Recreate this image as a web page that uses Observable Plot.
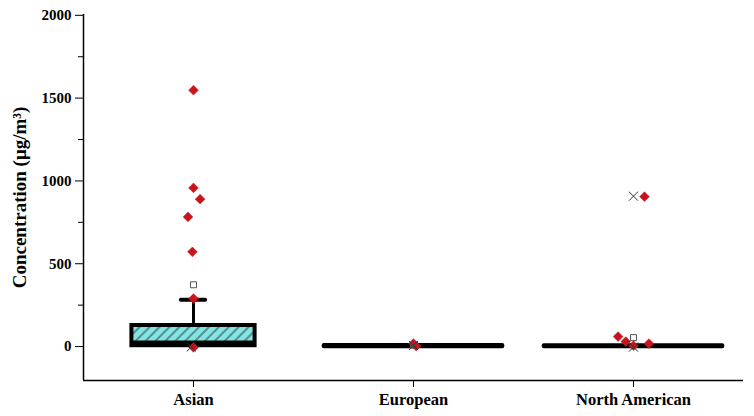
<!DOCTYPE html>
<html>
<head>
<meta charset="utf-8">
<script src="https://cdn.jsdelivr.net/npm/d3@7"></script>
<script src="https://cdn.jsdelivr.net/npm/@observablehq/plot@0.6"></script>
<style>
  html, body { margin: 0; padding: 0; background: white; }
</style>
</head>
<body>
<div id="chart"></div>
<script>
// ---- data ----
const categories = ["Asian", "European", "North American"];
const q1 = [5, 0, 0];
const median = [25, 2, 1];
const q3 = [127, 5, 3];
const whiskerHigh = [283, 5, 3];
const means = [373, 8, 54];

// outliers: category index, value, horizontal jitter (category units)
const outlierCat =    [0,    0,   0,   0,     0,      0,   0,  1,  1,     2,     2,     2,    2,  2];
const outlierValue =  [1548, 958, 890, 783,   572,    290, -5, 18, 3,     905,   60,    30,   5,  18];
const outlierJitter = [0,    0,   0.03,-0.025,-0.005, 0,   0,  0,  0.012, 0.05, -0.07, -0.035, 0, 0.07];

// extreme markers (x)
const crossCat =    [0,  1, 2,     2];
const crossValue =  [-2, 6, 908,   -3];
const crossJitter = [-0.01, 0, 0.0, 0];

const yLabel = "Concentration (\u03bcg/m\u00b3)";

// ---- tables built from arrays ----
const boxes = categories.map((c, i) => ({i, c, q1: q1[i], med: median[i], q3: q3[i], hi: whiskerHigh[i], mean: means[i]}));
const outliers = outlierCat.map((c, k) => ({x: c + outlierJitter[k], y: outlierValue[k]}));
const crosses = crossCat.map((c, k) => ({x: c + crossJitter[k], y: crossValue[k]}));

const mainHalf = 0.28, otherHalf = 0.405, capHalf = 0.055;
const yMin = -205, yMax = 2005;

const svg = Plot.plot({
  width: 754,
  height: 416,
  marginLeft: 83,
  marginRight: 11,
  marginTop: 14,
  marginBottom: 36,
  style: {fontFamily: "'Liberation Serif', 'Times New Roman', serif", fontWeight: "bold", fontSize: "15px", background: "white", color: "black"},
  x: {domain: [-0.5, 2.5], axis: null},
  y: {domain: [yMin, yMax], axis: null},
  marks: [
    // boxes
    Plot.rect(boxes.filter(d => d.i === 0), {x1: d => d.i - mainHalf, x2: d => d.i + mainHalf, y1: "q1", y2: "q3", fill: "url(#hatch)", stroke: "black", strokeWidth: 4}),
    Plot.rect(boxes.filter(d => d.i !== 0), {x1: d => d.i - otherHalf, x2: d => d.i + otherHalf, y1: "q1", y2: "q3", fill: "black", stroke: "black", strokeWidth: 4.5, strokeLinecap: "round", strokeLinejoin: "round"}),
    Plot.ruleY(boxes.filter(d => d.i === 0), {y: "med", x1: d => d.i - mainHalf, x2: d => d.i + mainHalf, stroke: "black", strokeWidth: 4}),
    // whisker
    Plot.ruleX(boxes.filter(d => d.hi > d.q3), {x: "i", y1: "q3", y2: "hi", stroke: "black", strokeWidth: 3}),
    Plot.ruleY(boxes.filter(d => d.hi > d.q3), {y: "hi", x1: d => d.i - capHalf, x2: d => d.i + capHalf, stroke: "black", strokeWidth: 4, strokeLinecap: "round"}),
    // means
    Plot.dot(boxes, {x: "i", y: "mean", symbol: "square2", r: 3.8, fill: "white", stroke: "#555", strokeWidth: 1}),
    // outliers
    Plot.dot(outliers, {x: "x", y: "y", symbol: "diamond2", r: 4.4, fill: "#c8141c", stroke: "#c8141c", strokeWidth: 0.5}),
    // crosses
    Plot.dot(crosses, {x: "x", y: "y", symbol: "times", r: 4.2, stroke: "#333", strokeWidth: 1}),
    // frame lines
    Plot.ruleX([-0.5], {y1: yMin, y2: yMax, stroke: "black", strokeWidth: 1.5}),
    Plot.ruleY([yMin], {x1: -0.5, x2: 2.5, stroke: "black", strokeWidth: 1.5}),
    // axes
    Plot.axisY({ticks: [0, 500, 1000, 1500, 2000], tickSize: 8, tickPadding: 4, tickFormat: d => String(d), label: null, fontSize: 15, fontWeight: "bold"}),
    Plot.axisY({ticks: [250, 750, 1250, 1750], tickSize: 5, tickFormat: () => "", label: null}),
    Plot.axisX({ticks: [0, 1, 2], tickSize: 7, tickPadding: 6, tickFormat: i => categories[i], label: null, fontSize: 16.5, fontWeight: "bold"}),
    Plot.text([yLabel], {frameAnchor: "left", dx: -64, rotate: -90, textAnchor: "middle", fontSize: 19, fontWeight: "bold", text: d => d})
  ]
});

// hatch pattern
const ns = "http://www.w3.org/2000/svg";
const defs = document.createElementNS(ns, "defs");
defs.innerHTML = '<pattern id="hatch" patternUnits="userSpaceOnUse" width="7" height="7" patternTransform="rotate(45)"><rect width="7" height="7" fill="#80e6e3"/><line x1="1" y1="0" x2="1" y2="7" stroke="#333" stroke-width="1"/></pattern>';
svg.insertBefore(defs, svg.firstChild);

document.getElementById("chart").appendChild(svg);
</script>
</body>
</html>
